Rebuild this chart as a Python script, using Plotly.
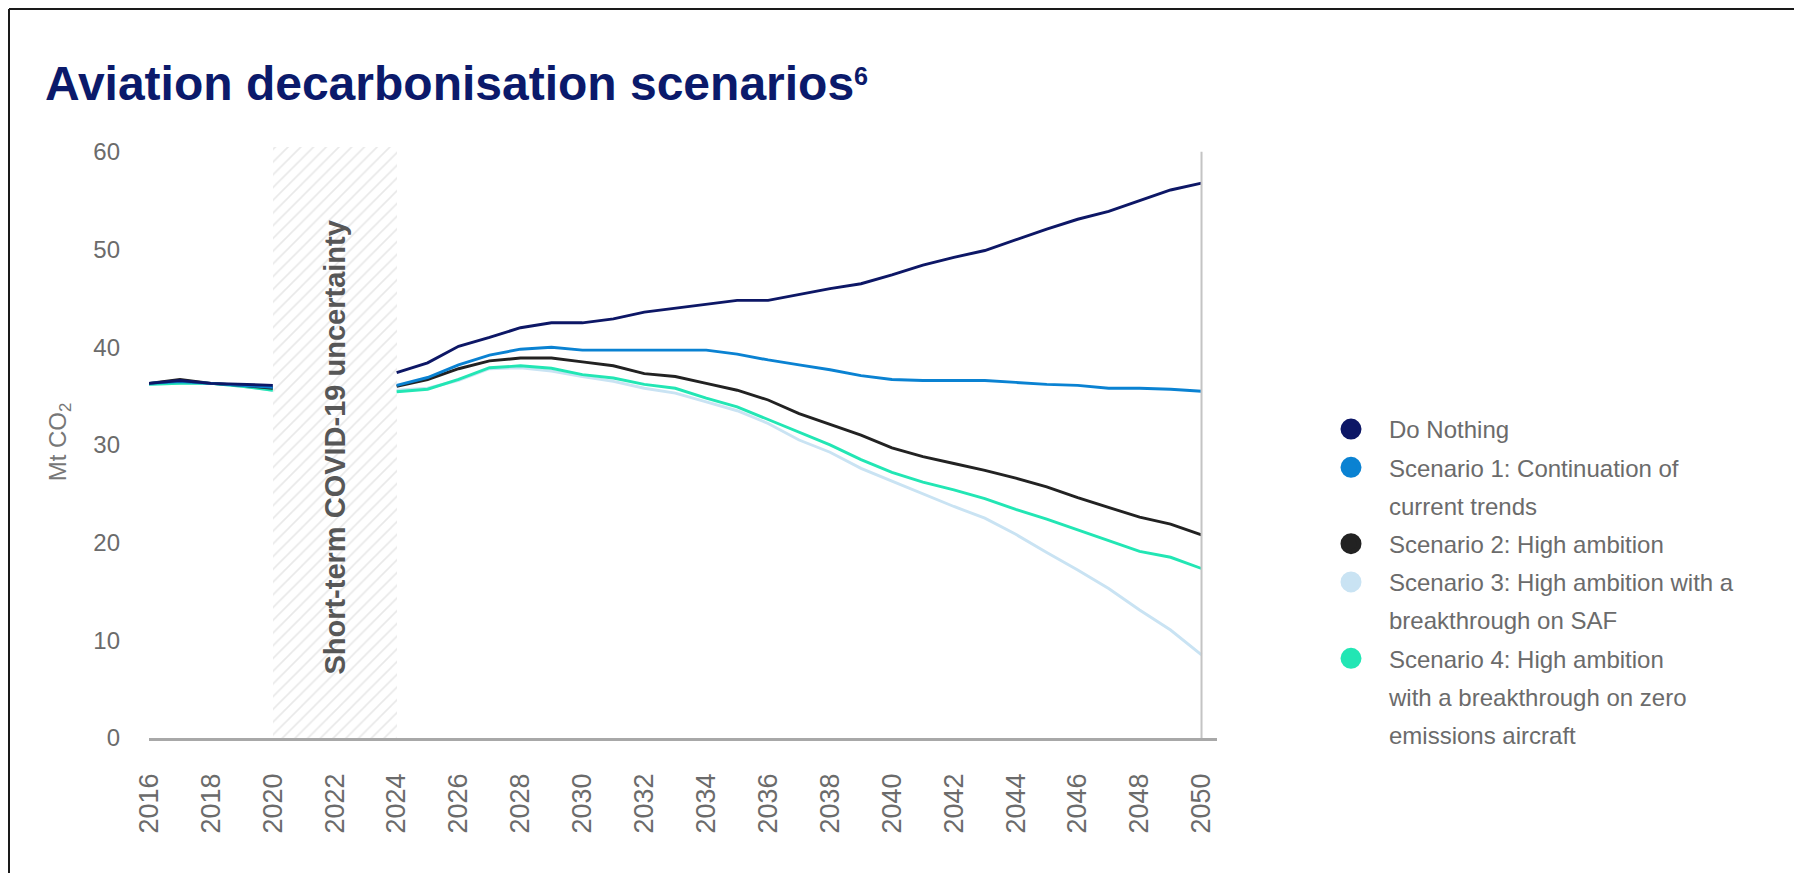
import plotly.graph_objects as go

# ---------------- data ----------------
years = list(range(2016, 2051))
covid_start, covid_end = 2020, 2024
y_max = 60.5  # top of the uncertainty band

pre_do_nothing = [36.3, 36.6, 36.3, 36.2, 36.1]
pre_s1 = [36.3, 36.5, 36.3, 36.1, 35.9]
pre_s2 = [36.3, 36.7, 36.3, 36.1, 35.8]
pre_s3 = [36.2, 36.3, 36.3, 36.0, 35.6]
pre_s4 = [36.2, 36.3, 36.3, 36.0, 35.6]

gap = [None, None, None]  # 2021-2023, no values

post_do_nothing = [37.4, 38.4, 40.1, 41.0, 42.0, 42.5, 42.5, 42.9, 43.6, 44.0,
                   44.4, 44.8, 44.8, 45.4, 46.0, 46.5, 47.4, 48.4, 49.2, 49.9,
                   51.0, 52.1, 53.1, 53.9, 55.0, 56.1, 56.8]
post_s1 = [36.1, 36.9, 38.2, 39.2, 39.8, 40.0, 39.7, 39.7, 39.7, 39.7,
           39.7, 39.3, 38.7, 38.2, 37.7, 37.1, 36.7, 36.6, 36.6, 36.6,
           36.4, 36.2, 36.1, 35.8, 35.8, 35.7, 35.5]
post_s2 = [36.0, 36.7, 37.8, 38.6, 38.9, 38.9, 38.5, 38.1, 37.3, 37.0,
           36.3, 35.6, 34.6, 33.2, 32.1, 31.0, 29.7, 28.8, 28.1, 27.4,
           26.6, 25.7, 24.6, 23.6, 22.6, 21.9, 20.8]
post_s3 = [35.6, 35.8, 36.6, 37.8, 37.9, 37.55, 37.0, 36.5, 35.8, 35.3,
           34.4, 33.5, 32.2, 30.5, 29.25, 27.6, 26.3, 25.0, 23.7, 22.5,
           20.85, 19.0, 17.2, 15.3, 13.1, 11.05, 8.5]
post_s4 = [35.45, 35.7, 36.7, 37.9, 38.1, 37.85, 37.2, 36.85, 36.2, 35.8,
           34.8, 33.9, 32.6, 31.3, 30.0, 28.5, 27.2, 26.2, 25.4, 24.5,
           23.4, 22.4, 21.3, 20.2, 19.1, 18.5, 17.35]

# legend labels, one list of text lines per series
label_lines = [["Do Nothing"],
               ["Scenario 1: Continuation of", "current trends"],
               ["Scenario 2: High ambition"],
               ["Scenario 3: High ambition with a", "breakthrough on SAF"],
               ["Scenario 4: High ambition", "with a breakthrough on zero",
                "emissions aircraft"]]
colors = ["#0d1766", "#0a82d2", "#222222", "#c9e3f3", "#22e6b4"]
series = [pre_do_nothing + gap + post_do_nothing,
          pre_s1 + gap + post_s1,
          pre_s2 + gap + post_s2,
          pre_s3 + gap + post_s3,
          pre_s4 + gap + post_s4]

y_ticks = [0, 10, 20, 30, 40, 50, 60]
x_ticks = list(range(2016, 2051, 2))

FONT = "Liberation Sans, Arial, Helvetica, sans-serif"
GREY = "#6b6b6b"

W, H = 1794, 865
L, R, T, B = 141, 585, 138, 135
plot_w, plot_h = W - L - R, H - T - B


def px_x(px):  # figure pixel -> paper
    return (px - L) / plot_w


def px_y(py):
    return (H - B - py) / plot_h


fig = go.Figure()

# hatched uncertainty band
fig.add_trace(go.Bar(
    x=[(covid_start + covid_end) / 2], y=[y_max], width=[covid_end - covid_start],
    base=0, marker=dict(color="white", line=dict(width=0),
                        pattern=dict(shape="/", fgcolor="#d2d2d2", bgcolor="white",
                                     size=9, solidity=0.18)),
    showlegend=False, hoverinfo="skip"))

# lines (lighter series underneath)
draw_order = [3, 4, 2, 1, 0]
for i in draw_order:
    fig.add_trace(go.Scatter(
        x=years, y=series[i], mode="lines", name=" ".join(label_lines[i]),
        line=dict(color=colors[i], width=2.9), connectgaps=False,
        showlegend=False))

# legend entries: a circle for each series, text lines evenly spaced
rank = 0
for i in range(5):
    for j, line_text in enumerate(label_lines[i]):
        rank += 1
        c = colors[i] if j == 0 else "rgba(0,0,0,0)"
        fig.add_trace(go.Scatter(
            x=[None], y=[None], mode="markers", name=line_text,
            legendgroup=f"g{rank}", legendrank=rank, hoverinfo="skip",
            marker=dict(symbol="circle", size=16, color=c,
                        line=dict(width=5, color=c))))

# vertical reference line at the final year
fig.add_shape(type="line", x0=years[-1], x1=years[-1], y0=0, y1=60,
              xref="x", yref="y", line=dict(color="#c4c4c4", width=2))

# page frame
fig.add_shape(type="line", xref="paper", yref="paper",
              x0=px_x(1), x1=px_x(W), y0=px_y(1), y1=px_y(1),
              line=dict(color="#1a1a1a", width=2))
fig.add_shape(type="line", xref="paper", yref="paper",
              x0=px_x(1), x1=px_x(1), y0=px_y(1), y1=px_y(H),
              line=dict(color="#1a1a1a", width=2))

fig.add_annotation(x=(covid_start + covid_end) / 2, y=29.7, xref="x", yref="y",
                   text="<b>Short-term COVID-19 uncertainty</b>", textangle=-90,
                   showarrow=False, font=dict(family=FONT, size=29, color="#575757"))

fig.update_layout(
    width=W, height=H,
    margin=dict(l=L, r=R, t=T, b=B, autoexpand=False),
    paper_bgcolor="white", plot_bgcolor="white",
    bargap=0,
    title=dict(text="<b>Aviation decarbonisation scenarios"
                    "<span style=\"font-size:36px\"><sup>6</sup></span></b>",
               x=37 / W, xref="container", xanchor="left",
               y=1 - 75 / H, yref="container", yanchor="middle",
               font=dict(family=FONT, size=48, color="#0b1a6b")),
    showlegend=True,
    legend=dict(x=1305 / W, xref="container", xanchor="left",
                y=1 - 399 / H, yref="container", yanchor="top",
                font=dict(family=FONT, size=24, color=GREY),
                itemwidth=66, tracegroupgap=4, itemclick=False,
                itemdoubleclick=False,
                bgcolor="rgba(0,0,0,0)", borderwidth=0),
    xaxis=dict(range=[2016, 2050.5], tickvals=x_ticks, ticktext=[str(t) for t in x_ticks],
               tickangle=-90, showgrid=False, zeroline=False, ticks="",
               showline=True, linecolor="#a8a8a8", linewidth=2.5,
               ticklabelstandoff=22, automargin=False,
               tickfont=dict(family=FONT, size=27, color=GREY)),
    yaxis=dict(range=[0, 60.6], tickvals=y_ticks, showgrid=False, zeroline=False,
               ticks="", showline=False, ticklabelstandoff=28, automargin=False,
               tickfont=dict(family=FONT, size=24, color=GREY),
               title=dict(text="Mt CO<sub>2</sub>", standoff=19,
                          font=dict(family=FONT, size=24, color="#777777"))),
)

fig.write_html("out.html")
